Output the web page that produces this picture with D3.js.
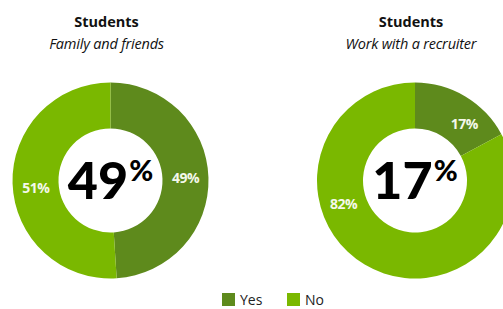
<!DOCTYPE html>
<html><head><meta charset="utf-8">
<script src="https://cdn.jsdelivr.net/npm/d3@7"></script>
<style>body{margin:0;background:#fff}svg{display:block}</style>
</head><body>
<svg id="c" width="503" height="309"></svg>
<script>
const titles = ["Students", "Students"];
const subtitles = ["Family and friends", "Work with a recruiter"];
const categories = ["Yes", "No"];
const yesValues = [49, 17];
const noValues = [51, 82];
const centerValues = ["49", "17"];

const colors = {Yes: "#5e8a1c", No: "#7ab800"};
const layout = [
  {cx: 110.5, cy: 180.5, labelAngles: [88, 264]},
  {cx: 415, cy: 180.5, labelAngles: [41, 252]}
];
const R = 98, r = 52, labelR = 75;
const font = "'Open Sans', Lato, sans-serif";

const svg = d3.select("#c");
const pie = d3.pie().sort(null).value(d => d.v);
const arc = d3.arc().innerRadius(r).outerRadius(R);

layout.forEach((L, i) => {
  const data = [{k: "Yes", v: yesValues[i]}, {k: "No", v: noValues[i]}];
  const g = svg.append("g").attr("transform", `translate(${L.cx},${L.cy})`);
  g.selectAll("path").data(pie(data)).join("path")
    .attr("d", arc).attr("fill", d => colors[d.data.k]);
  g.selectAll("text.lbl").data(pie(data)).join("text").attr("class", "lbl")
    .attr("x", (d, j) => labelR * Math.sin(L.labelAngles[j] * Math.PI / 180))
    .attr("y", (d, j) => -labelR * Math.cos(L.labelAngles[j] * Math.PI / 180))
    .attr("dy", "0.35em").attr("text-anchor", "middle")
    .attr("font-family", font).attr("font-weight", 700).attr("font-size", 14)
    .attr("fill", "#f4f8ea").attr("letter-spacing", -0.5)
    .text(d => d.data.v + "%");
  const t = g.append("text").attr("text-anchor", "middle").attr("y", 18)
    .attr("font-family", "Lato, sans-serif").attr("font-weight", 900).attr("fill", "#000");
  t.append("tspan").attr("font-size", 52).text(centerValues[i]);
  t.append("tspan").attr("font-size", 29).attr("dy", -18).attr("dx", 1).text("%");
  svg.append("text").attr("x", L.cx - 4).attr("y", 27).attr("text-anchor", "middle")
    .attr("font-family", font).attr("font-weight", 700).attr("font-size", 14.5)
    .attr("fill", "#111").text(titles[i]);
  svg.append("text").attr("x", L.cx - 4).attr("y", 49).attr("text-anchor", "middle")
    .attr("font-family", font).attr("font-style", "italic").attr("font-size", 14.5)
    .attr("fill", "#111").attr("letter-spacing", -0.2).text(subtitles[i]);
});

const leg = svg.append("g");
const legX = d3.scalePoint().domain(categories).range([222, 287]);
categories.forEach(c => {
  leg.append("rect").attr("x", legX(c)).attr("y", 293).attr("width", 13).attr("height", 13)
    .attr("fill", colors[c]);
  leg.append("text").attr("x", legX(c) + 18).attr("y", 305)
    .attr("font-family", font).attr("font-size", 14).attr("fill", "#222").text(c);
});
</script>
</body></html>
